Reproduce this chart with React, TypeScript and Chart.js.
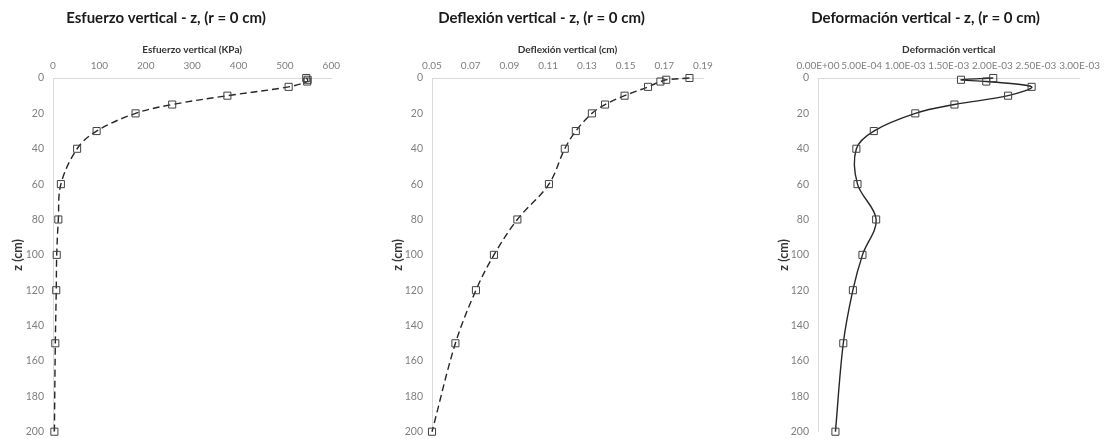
import React, { useEffect, useRef } from 'react';
import { Chart, registerables } from 'chart.js';

Chart.register(...registerables);

// Depth (cm) shared by the three profiles
const zDepth = [0, 1, 2, 5, 10, 15, 20, 30, 40, 60, 80, 100, 120, 150, 200];
// Esfuerzo vertical (KPa)
const esfuerzo = [546, 549, 548, 508, 376, 257, 178, 94, 52, 17, 11.5, 8, 7, 5, 3];
// Deflexión vertical (cm)
const deflexion = [0.183, 0.171, 0.168, 0.1616, 0.1495, 0.1394, 0.1326, 0.1243, 0.1186, 0.1104, 0.0941, 0.082, 0.0727, 0.0621, 0.05];
// Deformación vertical
const deformacion = [2.01e-3, 1.64e-3, 1.93e-3, 2.45e-3, 2.18e-3, 1.565e-3, 1.116e-3, 0.64e-3, 0.44e-3, 0.453e-3, 0.667e-3, 0.51e-3, 0.4e-3, 0.29e-3, 0.2e-3];

const titles = [
  'Esfuerzo vertical - z, (r = 0 cm)',
  'Deflexión vertical - z, (r = 0 cm)',
  'Deformación vertical - z, (r = 0 cm)',
];
const xTitles = ['Esfuerzo vertical (KPa)', 'Deflexión vertical (cm)', 'Deformación vertical'];
const yTitle = 'z (cm)';

const FONT = 'Lato, "Open Sans", sans-serif';
const CANVAS_H = 447;

function fmtExp(v: number): string {
  const s = Number(v).toExponential(2);
  const [m, e] = s.split('e');
  const sign = e[0] === '-' ? '-' : '+';
  const digits = e.replace(/[+-]/, '').padStart(2, '0');
  return `${m}E${sign}${digits}`;
}

type Props = {
  left: number;
  width: number;
  title: string;
  xTitle: string;
  values: number[];
  xMin: number;
  xMax: number;
  xStep: number;
  fmt: (v: number) => string;
  dashed: boolean;
  yAxisWidth: number;
  padRight: number;
};

function ProfileChart(p: Props) {
  const ref = useRef<HTMLCanvasElement | null>(null);
  useEffect(() => {
    if (!ref.current) return;
    const chart = new Chart(ref.current, {
      type: 'scatter',
      data: {
        datasets: [
          {
            data: p.values.map((v, i) => ({ x: v, y: zDepth[i] })),
            showLine: true,
            borderColor: '#262626',
            borderWidth: 1.4,
            borderDash: p.dashed ? [7, 4] : [],
            tension: 0.35,
            pointStyle: 'rect',
            pointRadius: 5,
            pointHoverRadius: 5,
            pointBackgroundColor: 'rgba(0,0,0,0)',
            pointBorderColor: '#404040',
            pointBorderWidth: 1,
            clip: false,
          } as any,
        ],
      },
      options: {
        animation: false,
        responsive: false,
        maintainAspectRatio: false,
        layout: { padding: { left: 0, right: p.padRight, top: 0, bottom: 0 } },
        plugins: {
          legend: { display: false },
          tooltip: { enabled: false },
          title: {
            display: true,
            text: p.title,
            color: '#1a1a1a',
            font: { family: FONT, size: 15, weight: 'bold' },
            padding: { top: 9, bottom: 6 },
          },
        },
        scales: {
          x: {
            type: 'linear',
            position: 'top',
            min: p.xMin,
            max: p.xMax,
            ticks: {
              stepSize: p.xStep,
              callback: (v: any) => p.fmt(Number(v)),
              color: '#7f7f7f',
              font: { family: FONT, size: 10 },
              padding: 6,
              maxRotation: 0,
              autoSkip: false,
            },
            grid: { display: false, drawTicks: false },
            border: { display: true, color: '#d9d9d9', width: 1 },
            title: {
              display: true,
              text: p.xTitle,
              color: '#333333',
              font: { family: FONT, size: 10, weight: 'bold' },
              padding: { top: 11, bottom: 0 },
            },
            afterFit: (s: any) => {
              s.height = 45;
            },
          },
          y: {
            type: 'linear',
            reverse: true,
            min: 0,
            max: 200,
            ticks: {
              stepSize: 20,
              color: '#7f7f7f',
              font: { family: FONT, size: 10.5 },
              padding: 9,
            },
            grid: { display: false, drawTicks: false },
            border: { display: true, color: '#d9d9d9', width: 1 },
            title: {
              display: true,
              text: yTitle,
              color: '#333333',
              font: { family: FONT, size: 12.5, weight: 'bold' },
              padding: { top: 10, bottom: 0 },
            },
            afterFit: (s: any) => {
              s.width = p.yAxisWidth;
            },
          },
        },
      } as any,
    });
    return () => chart.destroy();
  }, []);
  return (
    <canvas
      ref={ref}
      width={p.width}
      height={CANVAS_H}
      style={{ position: 'absolute', left: p.left, top: 0, width: p.width, height: CANVAS_H, display: 'block' }}
    />
  );
}

export default function App() {
  return (
    <div style={{ position: 'fixed', left: 0, top: 0, width: 1109, height: 439, background: '#ffffff', overflow: 'hidden' }}>
      <ProfileChart
        left={0}
        width={346}
        title={titles[0]}
        xTitle={xTitles[0]}
        values={esfuerzo}
        xMin={0}
        xMax={600}
        xStep={100}
        fmt={(v) => String(Math.round(v))}
        dashed={true}
        yAxisWidth={53}
        padRight={14}
      />
      <ProfileChart
        left={380}
        width={344}
        title={titles[1]}
        xTitle={xTitles[1]}
        values={deflexion}
        xMin={0.05}
        xMax={0.19}
        xStep={0.02}
        fmt={(v) => v.toFixed(2)}
        dashed={true}
        yAxisWidth={52}
        padRight={21}
      />
      <ProfileChart
        left={766}
        width={340}
        title={titles[2]}
        xTitle={xTitles[2]}
        values={deformacion}
        xMin={0}
        xMax={0.003}
        xStep={0.0005}
        fmt={fmtExp}
        dashed={false}
        yAxisWidth={52}
        padRight={21}
      />
    </div>
  );
}
